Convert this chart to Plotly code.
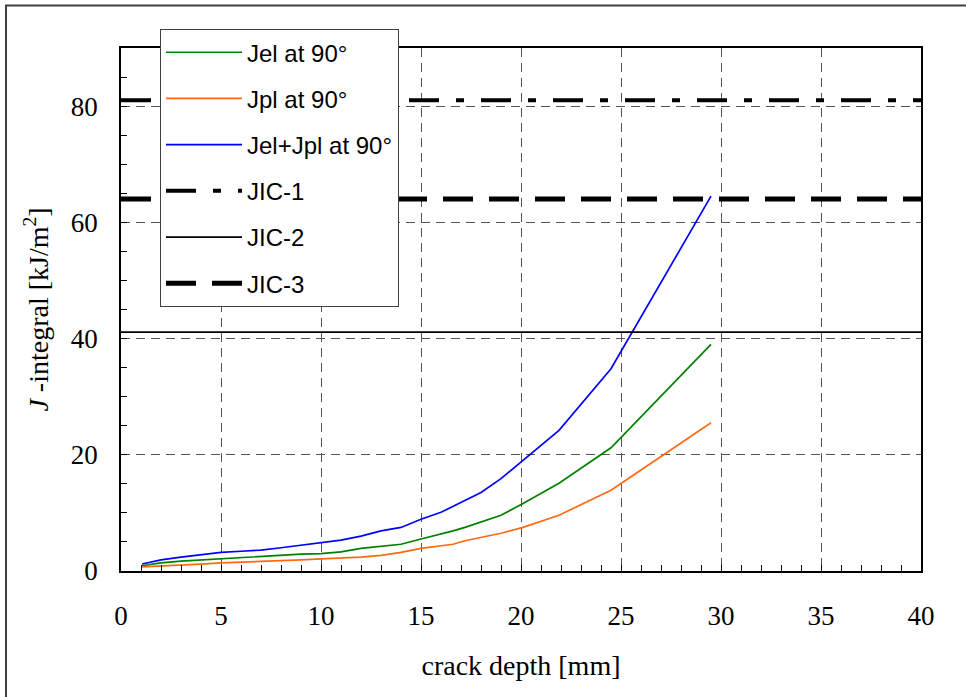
import plotly.graph_objects as go

# crack depth [mm]
depth = [1.05, 2, 3, 4, 5, 6, 7, 8, 9, 10, 11, 12, 13, 14, 15, 16, 16.6, 17.2, 18, 19, 20.1, 21.9, 24.5, 29.5]
jel = [0.9, 1.4, 1.7, 1.9, 2.1, 2.4, 2.5, 2.7, 2.9, 3.0, 3.3, 3.9, 4.3, 4.6, 5.5, 6.3, 6.9, 7.5, 8.4, 9.6, 11.6, 15.1, 21.2, 39.0]
jpl = [0.7, 0.9, 1.1, 1.2, 1.4, 1.5, 1.6, 1.7, 1.9, 2.1, 2.2, 2.4, 2.7, 3.2, 3.9, 4.3, 4.6, 5.2, 5.8, 6.5, 7.5, 9.6, 13.9, 25.5]
jsum = [1.2, 1.9, 2.4, 2.8, 3.2, 3.4, 3.6, 4.0, 4.4, 4.8, 5.3, 6.0, 6.9, 7.5, 8.9, 10.1, 11.1, 12.2, 13.5, 15.9, 19.0, 24.2, 34.8, 64.5]

jic_x = [0, 40]
jic1 = 81.0
jic2 = 41.1
jic3 = 64.0

x_ticks = [0, 5, 10, 15, 20, 25, 30, 35, 40]
y_ticks = [0, 20, 40, 60, 80]

serif = "Liberation Serif, Times New Roman, serif"
sans = "Liberation Sans, Arial, sans-serif"

fig = go.Figure()
fig.add_trace(go.Scatter(x=depth, y=jel, mode="lines", name="Jel at 90°",
                         line=dict(color="#008000", width=1.7), legendgroup="a"))
fig.add_trace(go.Scatter(x=depth, y=jpl, mode="lines", name="Jpl at 90°",
                         line=dict(color="#FF6A10", width=1.7), legendgroup="b"))
fig.add_trace(go.Scatter(x=depth, y=jsum, mode="lines", name="Jel+Jpl at 90°",
                         line=dict(color="#0000FF", width=1.7), legendgroup="c"))
fig.add_trace(go.Scatter(x=jic_x, y=[jic1, jic1], mode="lines", name="JIC-1",
                         line=dict(color="black", width=4, dash="30px,17px,8px,17px"), legendgroup="d"))
fig.add_trace(go.Scatter(x=jic_x, y=[jic2, jic2], mode="lines", name="JIC-2",
                         line=dict(color="black", width=1.8), legendgroup="e"))
fig.add_trace(go.Scatter(x=jic_x, y=[jic3, jic3], mode="lines", name="JIC-3",
                         line=dict(color="black", width=5, dash="30px,16px"), legendgroup="f"))

axis_common = dict(
    showline=True, linecolor="black", linewidth=1.5, mirror=True,
    showgrid=True, gridcolor="#555555", gridwidth=1, griddash="9px,6px",
    zeroline=False, ticks="inside", ticklen=6, tickcolor="black",
    tickfont=dict(family=serif, size=27, color="black"),
)

fig.update_xaxes(range=[0, 40], tickvals=x_ticks, ticklabelstandoff=20,
                 minor=dict(dtick=1, ticks="inside", ticklen=6, tickcolor="black", showgrid=False),
                 title=dict(text="crack depth [mm]", font=dict(family=serif, size=28, color="black"), standoff=25),
                 **axis_common)
fig.update_yaxes(range=[0, 90], tickvals=y_ticks, ticklabelstandoff=16,
                 minor=dict(dtick=5, ticks="inside", ticklen=6, tickcolor="black", showgrid=False),
                 title=dict(text="<i>J</i> -integral [kJ/m<sup>2</sup>]", font=dict(family=serif, size=28, color="black"), standoff=14),
                 **axis_common)

fig.add_shape(type="rect", xref="paper", yref="paper",
              x0=-0.14375, x1=1.07, y0=-0.26, y1=1.0812,
              line=dict(color="#404040", width=2), fillcolor="rgba(0,0,0,0)", layer="below")

fig.update_layout(
    width=966, height=697,
    margin=dict(l=121, r=45, t=47.5, b=126),
    paper_bgcolor="white", plot_bgcolor="white",
    showlegend=True,
    legend=dict(x=0.04875, y=1.036, xanchor="left", yanchor="top",
                bgcolor="white", bordercolor="#404040", borderwidth=1,
                font=dict(family=sans, size=24, color="black"),
                tracegroupgap=12, itemwidth=76, traceorder="grouped"),
)

fig.write_html("out.html", config={"displayModeBar": False},
               post_script="document.body.style.margin='0';")
